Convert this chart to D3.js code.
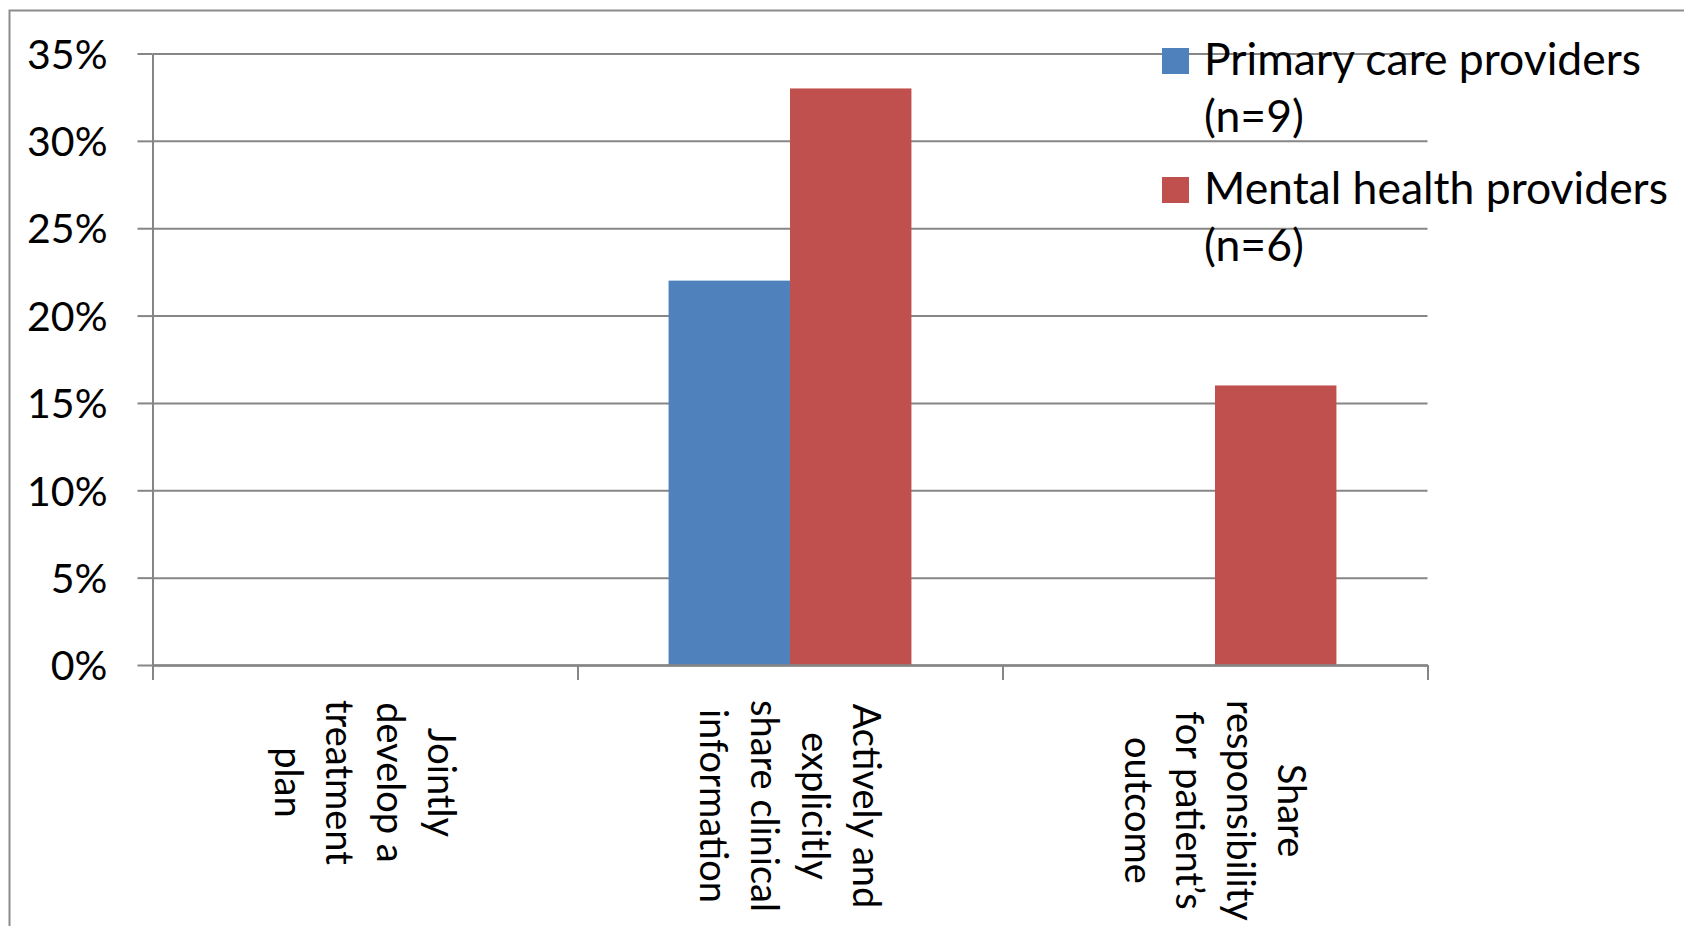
<!DOCTYPE html>
<html>
<head>
<meta charset="utf-8">
<script src="https://cdn.jsdelivr.net/npm/d3@7"></script>
<style>
  html, body { margin: 0; padding: 0; background: #ffffff; }
  svg { display: block; font-family: Lato, "Open Sans", "Liberation Sans", sans-serif; }
</style>
</head>
<body>
<svg id="chart" width="1684" height="926"></svg>
<script>
// Collaboration activities reported by providers (share of respondents)
const categories = [
  ["Jointly", "develop a", "treatment", "plan"],
  ["Actively and", "explicitly", "share clinical", "information"],
  ["Share", "responsibility", "for patient\u2019s", "outcome"]
];
const seriesNames = [
  ["Primary care providers", "(n=9)"],
  ["Mental health providers", "(n=6)"]
];
const primaryCare = [0, 22, 0];
const mentalHealth = [0, 33, 16];
const yTicks = [0, 5, 10, 15, 20, 25, 30, 35];
const colors = ["#4F81BD", "#C0504D"];

const series = [primaryCare, mentalHealth];

const svg = d3.select("#chart");
const plot = { left: 152.5, right: 1427.5, top: 53.5, bottom: 665 };
const axisColor = "#868686";

// outer chart frame
svg.append("rect")
  .attr("x", 9.5).attr("y", 10.5)
  .attr("width", 1720).attr("height", 1000)
  .attr("fill", "none").attr("stroke", "#8c8c8c").attr("stroke-width", 2);

const y = d3.scaleLinear().domain([0, 35]).range([plot.bottom, plot.top]);
const x0 = d3.scaleBand().domain(d3.range(categories.length)).range([plot.left, plot.right]).paddingInner(0).paddingOuter(0);
// bars occupy 2 of 3.5 units in each category slot (gap width 150%)
const barW = x0.bandwidth() / 3.5;
const x1 = d3.scaleBand().domain([0, 1]).range([0, 2 * barW]);

// gridlines
const grid = svg.append("g").attr("transform", `translate(${plot.left},0)`)
  .call(d3.axisRight(y).tickValues(yTicks).tickSize(plot.right - plot.left).tickFormat(""));
grid.select(".domain").remove();
grid.selectAll(".tick line").attr("stroke", axisColor).attr("stroke-width", 2);

// y axis with outside tick marks and labels
const yAxis = svg.append("g").attr("transform", `translate(${plot.left},0)`)
  .call(d3.axisLeft(y).tickValues(yTicks).tickSize(15).tickSizeOuter(0).tickPadding(30)
    .tickFormat(d => d + "%"))
  .attr("font-family", null).attr("font-size", null);
yAxis.select(".domain").attr("stroke", axisColor).attr("stroke-width", 2);
yAxis.selectAll(".tick line").attr("stroke", axisColor).attr("stroke-width", 2);
yAxis.selectAll(".tick text")
  .attr("font-size", 41).attr("fill", "#000")
  .attr("dy", "0.36em");

// bars
categories.forEach((c, i) => {
  const g = svg.append("g").attr("transform", `translate(${x0(i) + (x0.bandwidth() - 2 * barW) / 2},0)`);
  series.forEach((s, k) => {
    if (s[i] <= 0) return;
    g.append("rect")
      .attr("x", x1(k)).attr("width", x1.bandwidth())
      .attr("y", y(s[i])).attr("height", y(0) - y(s[i]))
      .attr("fill", colors[k]);
  });
});

// x axis along 0% with tick marks at category boundaries
const xb = d3.scaleLinear().domain([0, categories.length]).range([plot.left, plot.right]);
const xAxis = svg.append("g").attr("transform", `translate(0,${plot.bottom})`)
  .call(d3.axisBottom(xb).tickValues(d3.range(categories.length + 1)).tickSize(15).tickSizeOuter(0).tickFormat(""));
xAxis.select(".domain").attr("stroke", axisColor).attr("stroke-width", 2.5);
xAxis.selectAll(".tick line").attr("stroke", axisColor).attr("stroke-width", 2);

// rotated, multi-line category labels
const labelTop = 700, lineH = 51, catFont = 38;
categories.forEach((lines, i) => {
  const cx = x0(i) + x0.bandwidth() / 2;
  const g = svg.append("g").attr("transform", `translate(${cx},${labelTop}) rotate(90)`);
  const texts = lines.map((t, j) => g.append("text")
    .attr("font-size", catFont).attr("fill", "#000")
    .attr("text-anchor", "middle")
    .attr("y", (j - (lines.length - 1) / 2) * lineH)
    .attr("dy", "0.36em")
    .text(t));
  const maxW = d3.max(texts, t => t.node().getComputedTextLength());
  texts.forEach(t => t.attr("x", maxW / 2));
});

// legend
const legend = svg.append("g");
const legendY = [75, 204];
seriesNames.forEach((lines, k) => {
  legend.append("rect")
    .attr("x", 1162).attr("y", legendY[k] - 27)
    .attr("width", 27).attr("height", 26)
    .attr("fill", colors[k]);
  lines.forEach((t, j) => {
    legend.append("text")
      .attr("x", 1204).attr("y", legendY[k] + j * 57)
      .attr("font-size", 44.5).attr("fill", "#000")
      .text(t);
  });
});
</script>
</body>
</html>
